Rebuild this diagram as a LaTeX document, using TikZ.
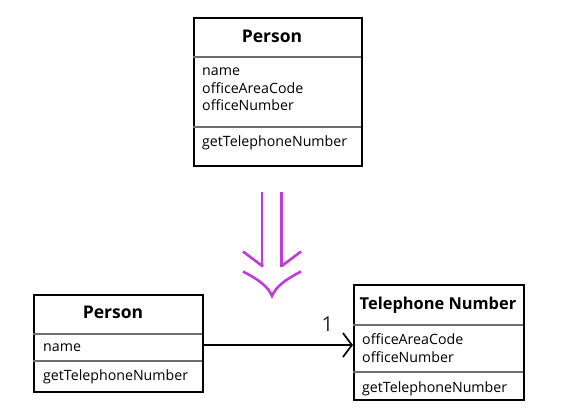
\documentclass[tikz,border=0pt]{standalone}
\usepackage{fontspec}
\setmainfont{Open Sans}
\usetikzlibrary{arrows.meta}
\definecolor{arrowpurple}{RGB}{193,58,219}
\definecolor{sepgray}{RGB}{110,110,110}
\tikzset{
  classbox/.style={draw=black, line width=2.1pt, rectangle, anchor=north west, inner sep=0pt},
  sepline/.style={draw=sepgray, line width=1.7pt},
  titletext/.style={font=\fontsize{17.5}{20}\selectfont\bfseries, anchor=base, inner sep=0pt},
  bodytext/.style={font=\fontsize{14.2}{18}\selectfont, anchor=base west, inner sep=0pt},
  assoc/.style={draw=black, line width=1.7pt, -{Straight Barb[length=9pt,width=24pt,line width=1.7pt]}},
  purple line/.style={draw=arrowpurple, line width=2.6pt},
  multtext/.style={font=\fontsize{20.5}{24}\selectfont, text=black!85, anchor=base, inner sep=0pt}
}
\begin{document}
\begin{tikzpicture}[x=1pt,y=-1pt]
\useasboundingbox (0,0) rectangle (563,416);
% top Person
\node[classbox, minimum width=168pt, minimum height=148pt] (p1) at (193,17) {};
\draw[sepline] (193,57) -- (361,57);
\draw[sepline] (193,127) -- (361,127);
\node[titletext] (p1t) at (272,42) {Person};
\node[bodytext] (p1a) at (202,75.5) {name};
\node[bodytext] (p1b) at (202,93) {officeAreaCode};
\node[bodytext] (p1c) at (202,110.5) {officeNumber};
\node[bodytext] (p1m) at (202,146.5) {getTelephoneNumber};
% bottom Person
\node[classbox, minimum width=169pt, minimum height=97pt] (p2) at (33,294) {};
\draw[sepline] (33,334) -- (202,334);
\draw[sepline] (33,361) -- (202,361);
\node[titletext] (p2t) at (113,318) {Person};
\node[bodytext] (p2a) at (43,351) {name};
\node[bodytext] (p2m) at (43,380) {getTelephoneNumber};
% Telephone Number
\node[classbox, minimum width=170pt, minimum height=115pt] (tn) at (353,284) {};
\draw[sepline] (353,325) -- (523,325);
\draw[sepline] (353,372) -- (523,372);
\node[titletext, font=\fontsize{16.4}{19}\selectfont\bfseries] (tnt) at (438,309) {Telephone Number};
\node[bodytext] (tna) at (362,344) {officeAreaCode};
\node[bodytext] (tnb) at (362,362) {officeNumber};
\node[bodytext] (tnm) at (362,392) {getTelephoneNumber};
% association
\draw[assoc] ([yshift=-1.5pt]p2.east) -- ([yshift=-1.5pt]p2.east -| tn.west);
\node[multtext] (mult) at (327.5,331.5) {1};
% purple refinement arrow
\draw[purple line] (262,192) -- (262,266.5);
\draw[purple line] (281.5,192) -- (281.5,266.5);
\draw[purple line, line join=miter] (243,251.5) -- (263,266.5);
\draw[purple line, line join=miter] (301,251.5) -- (281,266.5);
\draw[purple line, line join=miter] (243,271.5) .. controls (261,281) and (268,287) .. (272,296)
  .. controls (276,287) and (283,281) .. (301,271.5);
\end{tikzpicture}
\end{document}
